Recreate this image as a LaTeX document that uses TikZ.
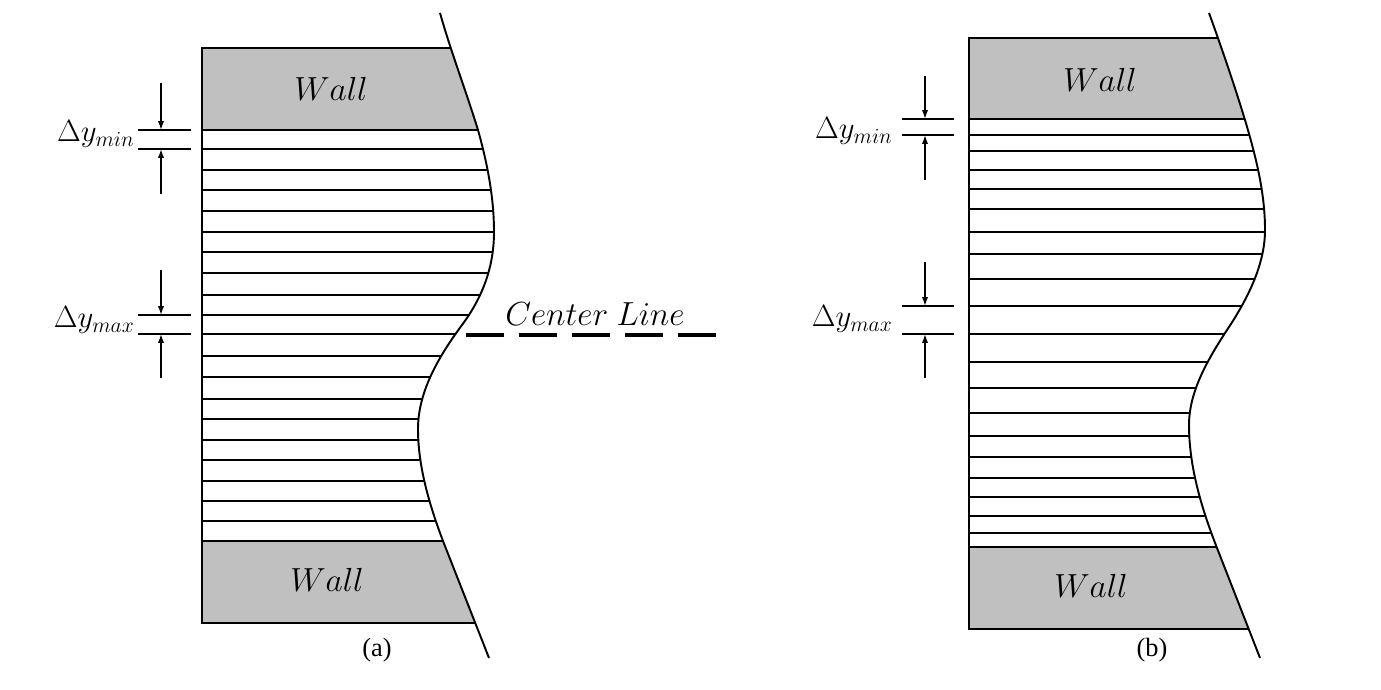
\RequirePackage{fix-cm}
\documentclass[tikz,border=0pt]{standalone}
\usepackage{fontspec}
\setmainfont{Liberation Serif}
\usetikzlibrary{arrows.meta}
\definecolor{wallgray}{HTML}{C0C0C0}

\begin{document}
\begin{tikzpicture}[
        x=0.02cm, y=-0.02cm,
        wall/.style={fill=wallgray},
        edge/.style={line width=1.1pt},
        dimline/.style={line width=0.85pt},
        dimarrow/.style={line width=0.85pt, -{Latex[length=5pt,width=3.5pt]}},
        walltxt/.style={font=\fontsize{19}{21}\selectfont, inner sep=0pt},
        dimtxt/.style={font=\fontsize{17.5}{19}\selectfont, inner sep=0pt, anchor=east},
        captxt/.style={font=\fontsize{15}{17}\selectfont, inner sep=0pt},
      ]
  \useasboundingbox (0,0) rectangle (1381,689);

  % (a) uniform grid
  \begin{scope}
    \clip (190,13) -- (440,13) .. controls (451,52) and (466,91) .. (478,130)
      .. controls (487.5,164) and (494,198) .. (494,232)
      .. controls (494,263) and (485,294) .. (462,325)
      .. controls (436,360) and (418,394) .. (418,429)
      .. controls (418,466) and (429,504) .. (443,541) -- (489,658) -- (190,658) -- cycle;
    \fill[wall] (202,48) rectangle (520,130);
    \fill[wall] (202,541) rectangle (520,623);
    \foreach \y in {130,149,170,190,211,232,252,273,295,315,334,356,377,399,419,440,460,481,501,521,541}
      \draw[edge] (202,\y) -- (520,\y);
    \draw[edge] (520,48) -- (202,48) -- (202,623) -- (520,623);
  \end{scope}
  \draw[edge] (440,13) .. controls (451,52) and (466,91) .. (478,130)
      .. controls (487.5,164) and (494,198) .. (494,232)
      .. controls (494,263) and (485,294) .. (462,325)
      .. controls (436,360) and (418,394) .. (418,429)
      .. controls (418,466) and (429,504) .. (443,541) -- (489,658);

  \node[walltxt] (wallAt) at (331,89) {$Wall$};
  \node[walltxt] (wallAb) at (327,580) {$Wall$};
  \node[captxt] (capA) at (377,650) {(a)};

  \draw[dimline] (138,130) -- (191,130) (138,149) -- (191,149);
  \draw[dimarrow] (161,83) -- (161,130);
  \draw[dimarrow] (161,194) -- (161,149);
  \node[dimtxt] (dminA) at (135,134) {$\Delta y_{min}$};

  \draw[dimline] (138,315) -- (191,315) (138,334) -- (191,334);
  \draw[dimarrow] (161,270) -- (161,315);
  \draw[dimarrow] (161,378) -- (161,334);
  \node[dimtxt] (dmaxA) at (135,320) {$\Delta y_{max}$};

  % center line
  \node[walltxt] (cline) at (595,314) {$Center\ Line$};
  \coordinate (clS) at (466,335);
  \coordinate (clE) at (717,335);
  \draw[line width=2.4pt, dash pattern=on 0.76cm off 0.3cm] (clS) -- (clE);

  % (b) stretched grid
  \begin{scope}
    \clip (957,13) -- (1209,13) .. controls (1222,49) and (1234,84) .. (1245,120)
      .. controls (1256,157) and (1265,193) .. (1265,230)
      .. controls (1265,263) and (1249,297) .. (1227,330)
      .. controls (1206,362) and (1189,393) .. (1189,425)
      .. controls (1189,466) and (1201,507) .. (1217,548) -- (1260,658) -- (957,658) -- cycle;
    \fill[wall] (969,38) rectangle (1290,119);
    \fill[wall] (969,547) rectangle (1290,629);
    \foreach \y in {119,135,151,170,189,209,232,254,279,306,334,362,388,413,436,457,478,497,516,533,547}
      \draw[edge] (969,\y) -- (1290,\y);
    \draw[edge] (1290,38) -- (969,38) -- (969,629) -- (1290,629);
  \end{scope}
  \draw[edge] (1209,13) .. controls (1222,49) and (1234,84) .. (1245,120)
      .. controls (1256,157) and (1265,193) .. (1265,230)
      .. controls (1265,263) and (1249,297) .. (1227,330)
      .. controls (1206,362) and (1189,393) .. (1189,425)
      .. controls (1189,466) and (1201,507) .. (1217,548) -- (1260,658);

  \node[walltxt] (wallBt) at (1100,80) {$Wall$};
  \node[walltxt] (wallBb) at (1091,586) {$Wall$};
  \node[captxt] (capB) at (1152,650) {(b)};

  \draw[dimline] (902,119) -- (954,119) (902,135) -- (954,135);
  \draw[dimarrow] (925,76) -- (925,119);
  \draw[dimarrow] (925,180) -- (925,135);
  \node[dimtxt] (dminB) at (893,131) {$\Delta y_{min}$};

  \draw[dimline] (902,306) -- (954,306) (902,334) -- (954,334);
  \draw[dimarrow] (925,262) -- (925,306);
  \draw[dimarrow] (925,378) -- (925,334);
  \node[dimtxt] (dmaxB) at (893,319) {$\Delta y_{max}$};
\end{tikzpicture}
\end{document}
